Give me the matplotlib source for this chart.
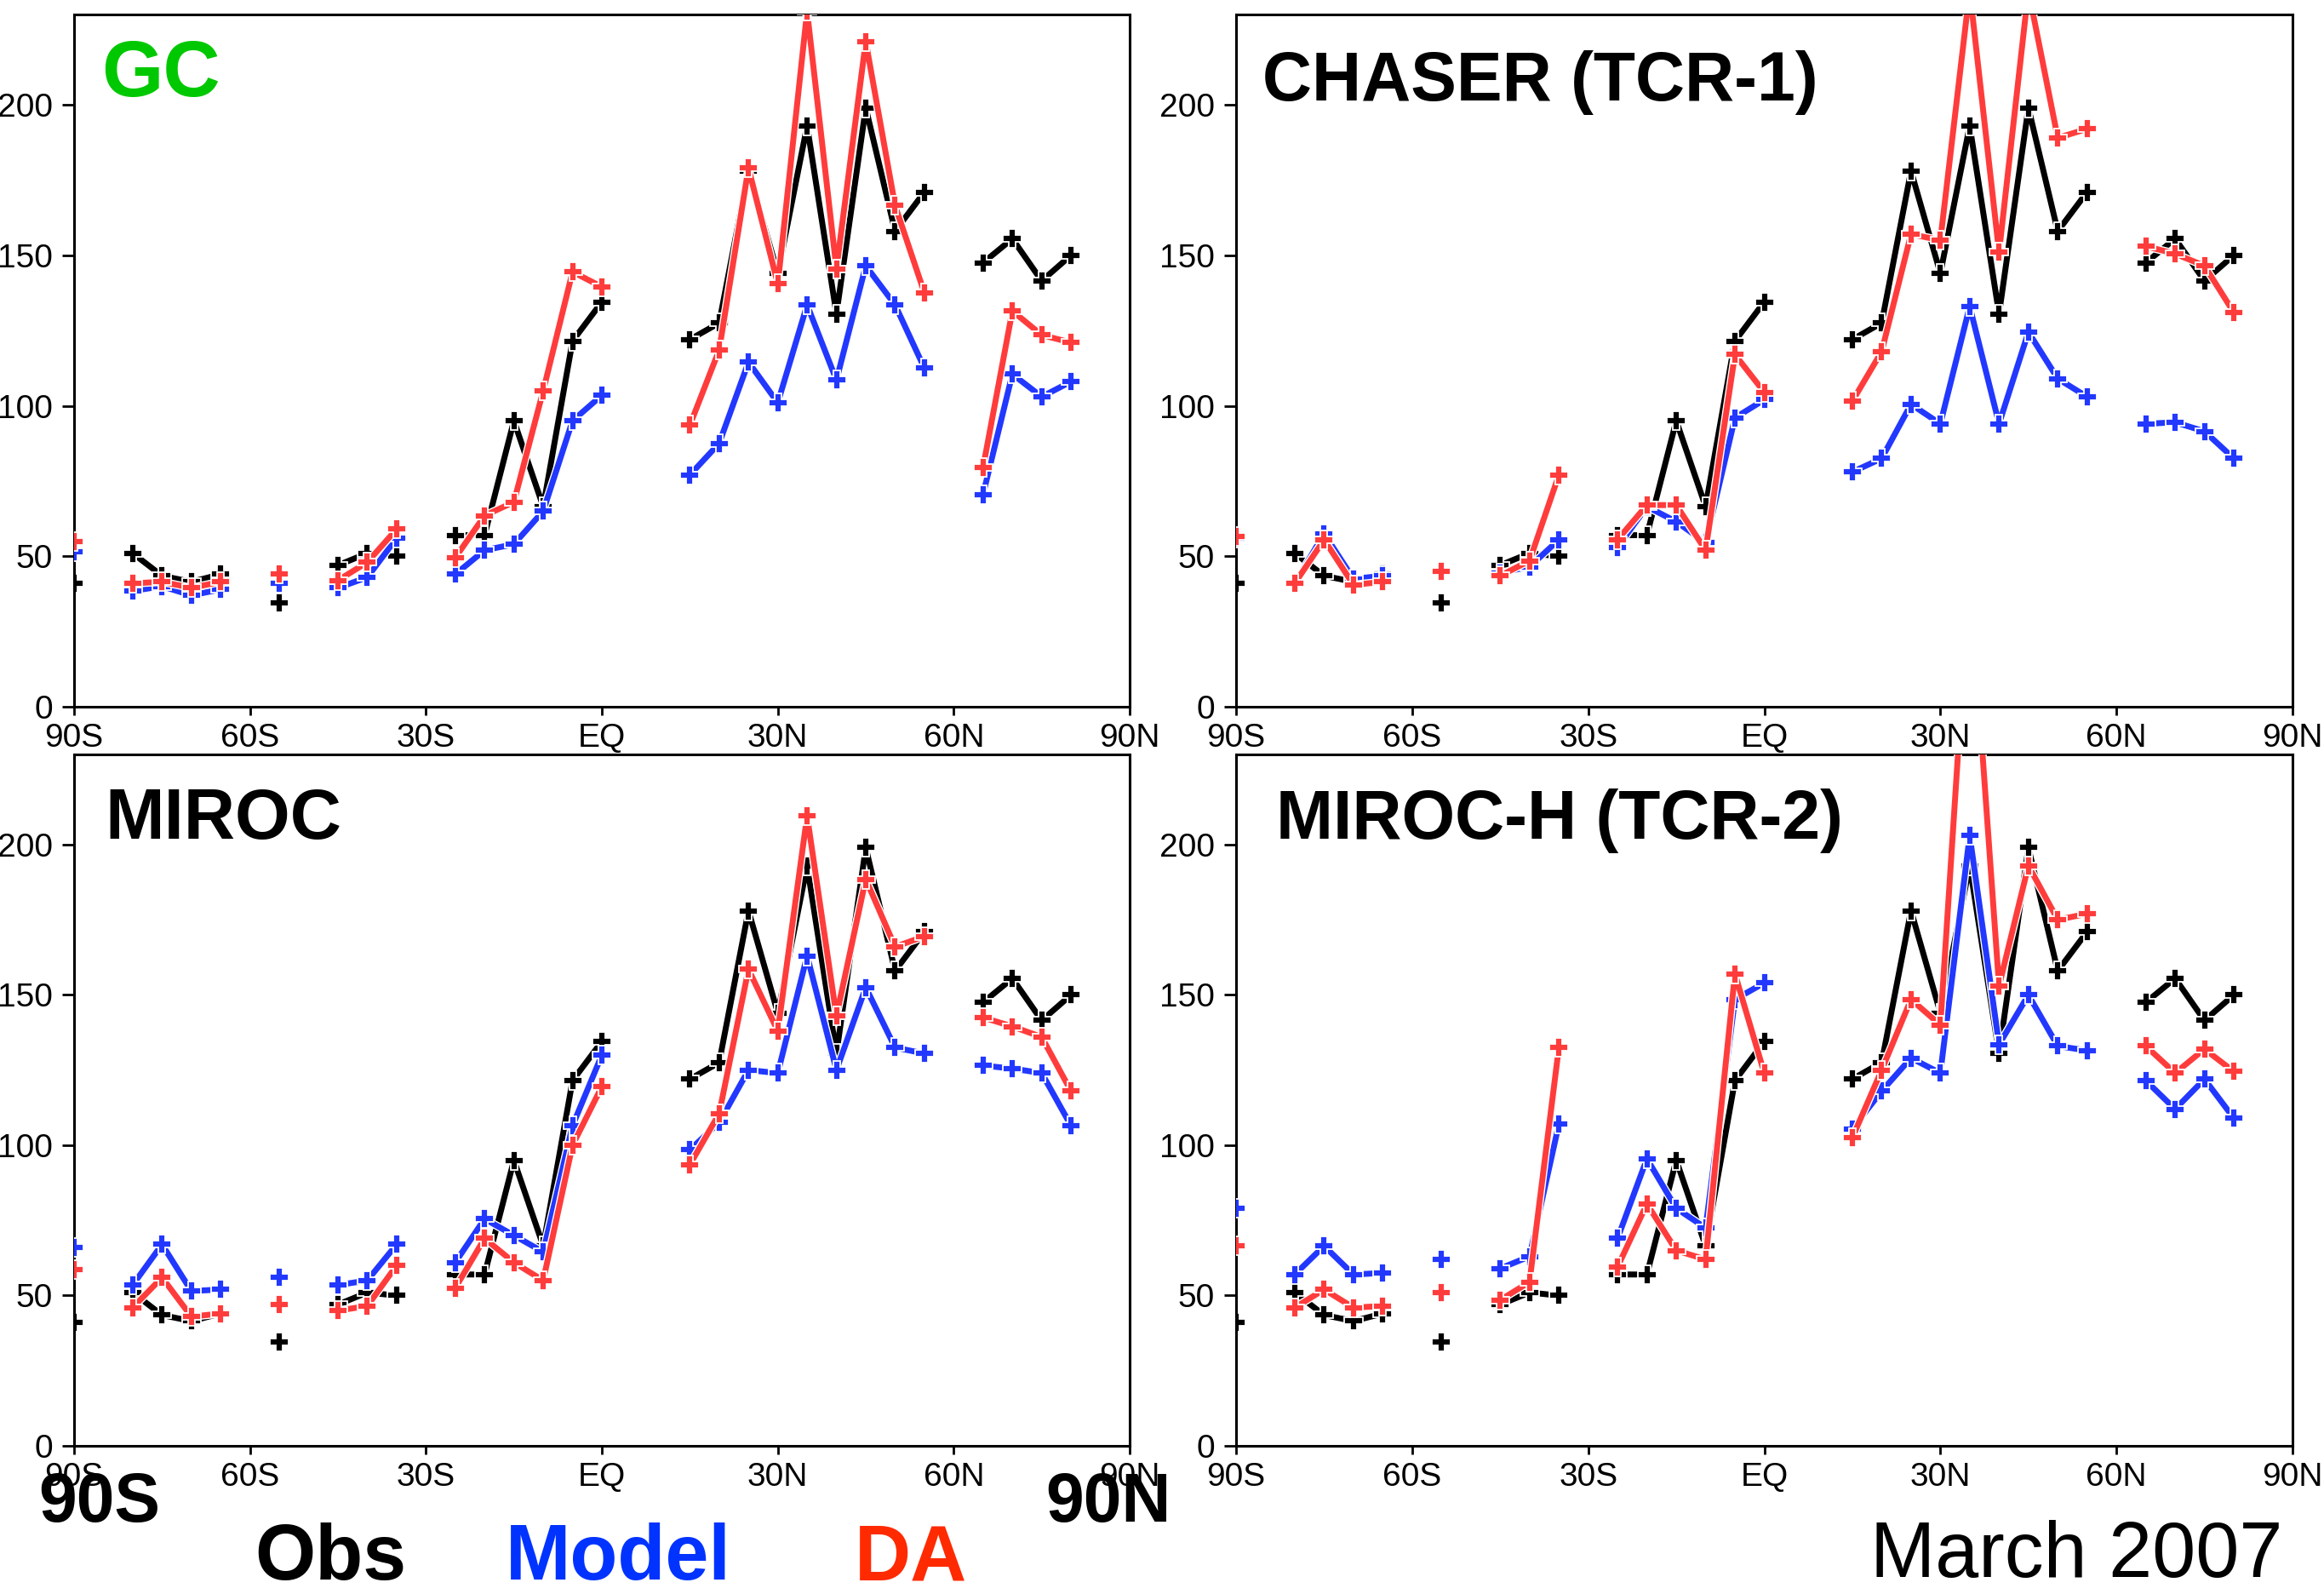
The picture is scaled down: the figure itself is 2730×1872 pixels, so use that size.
import numpy as np
import matplotlib.pyplot as plt
import matplotlib.patheffects as pe

plt.rcParams['font.family'] = ['Liberation Sans', 'DejaVu Sans']

# latitude bins (5 deg) that have data
lat = [-90, -80, -75, -70, -65, -55, -45, -40, -35, -25, -20, -15, -10, -5, 0,
       15, 20, 25, 30, 35, 40, 45, 50, 55, 65, 70, 75, 80]

obs = [41, 51, 43.5, 41.5, 44, 34.5, 47, 51, 50, 57, 57, 95, 66.5, 121.5, 134.5,
       122, 127.5, 178, 144, 193, 130.5, 199, 158, 171, 147.5, 155.5, 141.5, 150]

gc_model = [51.5, 38.5, 40, 37, 39, 41, 39.5, 43, 56, 44, 52, 54, 65, 95, 103.5,
            77, 87.5, 114.5, 101, 133.5, 108.5, 146.5, 133.5, 112.5, 70.5, 110.5, 103, 108]
gc_da = [55, 41, 41.5, 39.5, 41.5, 44, 42, 48, 59, 49.5, 63.5, 68, 105, 144.5, 139.5,
         93.5, 118.5, 179, 140.5, 231, 145.5, 221, 166.5, 137.5, 79.5, 131.5, 123.5, 121]

chaser_model = [56, 41, 57.5, 42.5, 43.5, 45, 44.5, 46.5, 55.5, 53, 66.5, 61.5, 54.5, 96, 102,
                78, 82.5, 100.5, 94, 133, 94, 124.5, 109, 103, 94, 94.5, 91.5, 82.5]
chaser_da = [56.5, 41, 55.5, 40.5, 41.5, 45, 43.5, 48.5, 77, 55.5, 67, 67, 52, 117, 104.5,
             101.5, 118, 157, 155, 238, 151, 238, 189, 192, 153, 150.5, 146.5, 131]

miroc_model = [66, 53.5, 67, 51.5, 52, 56, 53.5, 55, 67, 61, 75.5, 70, 64.5, 106.5, 130,
               98.5, 107.5, 125, 124, 163, 125, 152.5, 132.5, 130.5, 126.5, 125.5, 124, 106.5]
miroc_da = [58.5, 46, 56, 43, 44, 47, 45, 46.5, 60, 52.5, 69, 61, 55, 100, 119.5,
            93.5, 110.5, 158.5, 138, 209.5, 143, 188.5, 166, 169.5, 142.5, 139.5, 136, 118]

mirh_model = [79, 57, 66.5, 57, 57.5, 62, 59, 63, 107, 69, 95.5, 79, 72.5, 148.5, 154,
              105.5, 118, 129, 124, 203, 133.5, 150, 133, 131.5, 121.5, 112, 122, 109]
mirh_da = [66.5, 46, 52, 46, 46.5, 51, 48.5, 54.5, 132.5, 59.5, 80.5, 65, 62, 157, 124,
           102.5, 125, 148.5, 140, 290, 153, 193, 175, 177, 133, 124, 132, 124.5]

panels = [
    ('GC', gc_model, gc_da, '#00c800', 67),
    ('CHASER (TCR-1)', chaser_model, chaser_da, 'black', 58),
    ('MIROC', miroc_model, miroc_da, 'black', 60),
    ('MIROC-H (TCR-2)', mirh_model, mirh_da, 'black', 58),
]

xticks = [-90, -60, -30, 0, 30, 60, 90]
xlabels = ['90S', '60S', '30S', 'EQ', '30N', '60N', '90N']
yticks = [0, 50, 100, 150, 200]

c_obs, c_mod, c_da = 'black', '#2238ff', '#ff3c3c'


def segments(x, y):
    x = np.asarray(x, float)
    y = np.asarray(y, float)
    cut = np.where(np.diff(x) > 5)[0] + 1
    return zip(np.split(x, cut), np.split(y, cut))


def draw(ax, y, color, z):
    halo = [pe.Stroke(linewidth=7, foreground='white'), pe.Normal()]
    for xs, ys in segments(lat, y):
        if len(xs) > 1:
            ax.plot(xs, ys, color=color, lw=5, zorder=z, path_effects=halo)
    ax.plot(lat, y, linestyle='none', marker='P', ms=16, color=color,
            mec='white', mew=1.3, zorder=z + 0.5)


fig = plt.figure(figsize=(27.3, 18.72), dpi=100)

W, H = 2730., 1872.
boxes = [(87, 17, 1327, 830), (1452, 17, 2693, 830),
         (87, 886, 1327, 1698), (1452, 886, 2693, 1698)]
title_pos = [(0.026, 0.882), (0.025, 0.876), (0.029, 0.878), (0.038, 0.878)]

for (name, mod, da, tcol, tsize), (l, t, r, b), (tx, ty) in zip(panels, boxes, title_pos):
    ax = fig.add_axes([l / W, 1 - b / H, (r - l) / W, (b - t) / H])
    draw(ax, obs, c_obs, 2)
    draw(ax, mod, c_mod, 3)
    draw(ax, da, c_da, 4)

    ax.set_xlim(-90, 90)
    ax.set_ylim(0, 230)
    ax.set_xticks(xticks)
    ax.set_xticklabels(xlabels)
    ax.set_yticks(yticks)
    ax.tick_params(axis='x', length=7, width=2, pad=7, labelsize=28)
    ax.tick_params(axis='y', length=10, width=2, pad=8, labelsize=28)
    for s in ax.spines.values():
        s.set_linewidth(2.2)

    ax.text(tx, ty, name, transform=ax.transAxes, fontsize=tsize,
            fontweight='bold', color=tcol, va='baseline', ha='left', zorder=10)

# bottom annotations
fig.text(45 / W, 1 - 1787 / H, '90S', fontsize=58, fontweight='bold', va='baseline')
fig.text(1228 / W, 1 - 1787 / H, '90N', fontsize=58, fontweight='bold', va='baseline')
fig.text(299 / W, 1 - 1855 / H, 'Obs', fontsize=66, fontweight='bold',
         color='black', va='baseline')
fig.text(594 / W, 1 - 1855 / H, 'Model', fontsize=66, fontweight='bold',
         color='#0033ff', va='baseline')
fig.text(1004 / W, 1 - 1855 / H, 'DA', fontsize=66, fontweight='bold',
         color='#ff2a00', va='baseline')
fig.text(2681 / W, 1 - 1852 / H, 'March 2007', fontsize=66, ha='right',
         va='baseline')

plt.savefig('out.png', dpi=100)
